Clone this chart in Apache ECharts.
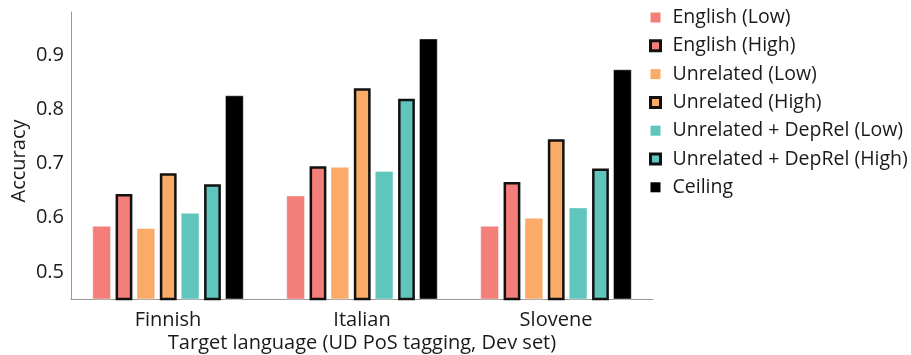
<!DOCTYPE html>
<html>
<head>
<meta charset="utf-8">
<script src="https://cdn.jsdelivr.net/npm/echarts@6/dist/echarts.min.js"></script>
<style>
  html, body { margin: 0; padding: 0; background: #fff; }
  #chart { width: 911px; height: 355px; }
</style>
</head>
<body>
<div id="chart"></div>
<script>
// ---- data ----
const categories = ['Finnish', 'Italian', 'Slovene'];
const seriesNames = [
  'English (Low)', 'English (High)',
  'Unrelated (Low)', 'Unrelated (High)',
  'Unrelated + DepRel (Low)', 'Unrelated + DepRel (High)',
  'Ceiling'
];
const englishLow      = [0.585, 0.641, 0.585];
const englishHigh     = [0.644, 0.695, 0.666];
const unrelatedLow    = [0.581, 0.694, 0.600];
const unrelatedHigh   = [0.682, 0.839, 0.745];
const depRelLow       = [0.609, 0.686, 0.619];
const depRelHigh      = [0.662, 0.820, 0.691];
const ceiling         = [0.826, 0.931, 0.874];
const yTickLabels     = ['0.5', '0.6', '0.7', '0.8', '0.9'];

const values = [englishLow, englishHigh, unrelatedLow, unrelatedHigh, depRelLow, depRelHigh, ceiling];
const colors = ['#F47E79', '#F47E79', '#F9AB67', '#F9AB67', '#60C5BD', '#60C5BD', '#000000'];
const isHigh = [false, true, false, true, false, true, false];

const FONT = '"Open Sans", "Noto Sans", sans-serif';
const TXT = '#1a1a1a';

const series = seriesNames.map((name, i) => ({
  name: name,
  type: 'bar',
  data: values[i],
  barWidth: isHigh[i] ? 16.8 : 18.6,
  barGap: '25%',
  itemStyle: isHigh[i]
    ? { color: colors[i], borderColor: '#111', borderWidth: 2.5 }
    : { color: colors[i], borderColor: 'rgba(255,255,255,0.55)', borderWidth: 0.8 },
  emphasis: { disabled: true }
}));

const legendData = seriesNames.map((name, i) => ({
  name: name,
  itemStyle: isHigh[i]
    ? { color: colors[i], borderColor: '#111', borderWidth: 3 }
    : { color: colors[i], borderWidth: 0 }
}));

const chart = echarts.init(document.getElementById('chart'));
chart.setOption({
  animation: false,
  backgroundColor: '#fff',
  grid: { left: 71, right: 258, top: 12, bottom: 56, containLabel: false, outerBoundsMode: 'none' },
  legend: {
    orient: 'vertical',
    left: 644,
    top: 2.5,
    itemWidth: 10,
    itemHeight: 10,
    itemGap: 8.3,
    icon: 'rect',
    data: legendData,
    textStyle: { fontFamily: FONT, fontSize: 19.5, color: TXT, lineHeight: 20, padding: [0, 0, 0, 7] }
  },
  xAxis: {
    type: 'category',
    data: categories,
    boundaryGap: true,
    name: 'Target language (UD PoS tagging, Dev set)',
    nameLocation: 'middle',
    nameGap: 34,
    nameMoveOverlap: false,
    nameTextStyle: { fontFamily: FONT, fontSize: 20, color: TXT },
    axisLine: { lineStyle: { color: '#999', width: 1 } },
    axisTick: { show: false },
    axisLabel: { fontFamily: FONT, fontSize: 20, color: TXT, margin: 11 },
    splitLine: { show: false }
  },
  yAxis: {
    type: 'value',
    min: 0.45,
    max: 0.98,
    splitNumber: 5,
    name: 'Accuracy',
    nameLocation: 'middle',
    nameGap: 42,
    nameMoveOverlap: false,
    nameTextStyle: { fontFamily: FONT, fontSize: 20, color: TXT, padding: [0, 11, 0, 0] },
    axisLine: { show: true, lineStyle: { color: '#999', width: 1 } },
    axisTick: { show: false },
    splitLine: { show: false },
    axisLabel: {
      fontFamily: FONT, fontSize: 20, color: TXT, margin: 7,
      showMinLabel: false, showMaxLabel: false,
      formatter: function (v) {
        const s = v.toFixed(1);
        return (Math.abs(v - parseFloat(s)) < 1e-6 && yTickLabels.indexOf(s) >= 0) ? s : '';
      }
    }
  },
  series: series
});
</script>
</body>
</html>
